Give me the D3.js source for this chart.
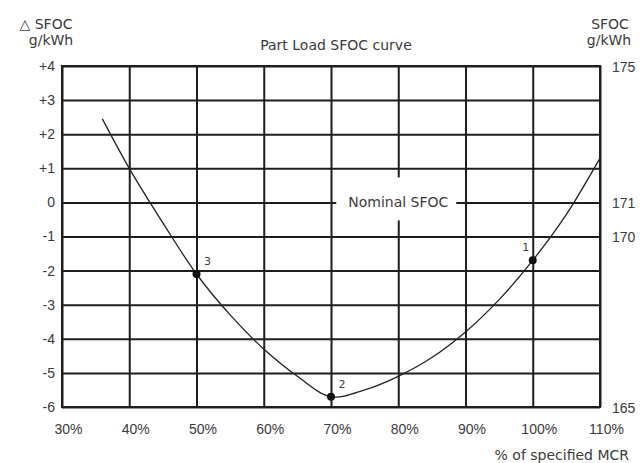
<!DOCTYPE html>
<html>
<head>
<meta charset="utf-8">
<script src="https://cdn.jsdelivr.net/npm/d3@7"></script>
<style>
  html, body { margin: 0; padding: 0; background: #fff; }
  svg { display: block; font-family: "DejaVu Sans", "Liberation Sans", Arial, sans-serif; }
  .axis text { fill: #3a3a3a; font-size: 14px; }
</style>
</head>
<body>
<svg id="chart" width="642" height="463"></svg>
<script>
// values
const loadPct = [36, 40, 45, 50, 55, 60, 65, 70, 75, 80, 85, 90, 95, 100, 105, 110];
const deltaSfoc = [2.45, 1.0, -0.6, -2.1, -3.3, -4.3, -5.1, -5.7, -5.5, -5.1, -4.55, -3.8, -2.85, -1.7, -0.35, 1.3];

const markLoad = [100, 70, 50];
const markDelta = [-1.7, -5.7, -2.1];
const markLabel = ["1", "2", "3"];

const xTicks = [30, 40, 50, 60, 70, 80, 90, 100, 110];
const yTicks = [4, 3, 2, 1, 0, -1, -2, -3, -4, -5, -6];
const rightTicks = [175, 171, 170, 165];
const nominalSfoc = 171;

const svg = d3.select("#chart");
const margin = { top: 66, right: 42, bottom: 56, left: 62 };
const innerW = 642 - margin.left - margin.right;
const innerH = 463 - margin.top - margin.bottom;

const g = svg.append("g").attr("transform", `translate(${margin.left},${margin.top})`);

const x = d3.scaleLinear().domain([30, 110]).range([0, innerW]);
const y = d3.scaleLinear().domain([-6, 4]).range([innerH, 0]);
const yRight = d3.scaleLinear().domain([nominalSfoc - 6, nominalSfoc + 4]).range([innerH, 0]);

const gridColor = "#1e1e1e";
const textColor = "#3a3a3a";

// grid
const gridG = g.append("g").attr("class", "grid");
gridG.append("g")
  .call(d3.axisBottom(x).tickValues(xTicks).tickSize(innerH).tickFormat(() => ""))
  .call((s) => s.select(".domain").remove());
gridG.append("g")
  .call(d3.axisRight(y).tickValues(yTicks).tickSize(innerW).tickFormat(() => ""))
  .call((s) => s.select(".domain").remove());
gridG.selectAll("line").attr("stroke", gridColor).attr("stroke-width", 2);

g.append("rect")
  .attr("width", innerW)
  .attr("height", innerH)
  .attr("fill", "none")
  .attr("stroke", gridColor)
  .attr("stroke-width", 2);

// left axis labels
const fmtDelta = (d) => (d > 0 ? `+${d}` : `${d}`);
g.append("g")
  .attr("class", "axis")
  .attr("transform", "translate(-4,0)")
  .call(d3.axisLeft(y).tickValues(yTicks).tickSize(0).tickFormat(fmtDelta))
  .call((s) => s.select(".domain").remove());

// right axis labels
g.append("g")
  .attr("class", "axis")
  .attr("transform", `translate(${innerW + 12},1)`)
  .call(d3.axisRight(yRight).tickValues(rightTicks).tickSize(0).tickPadding(0))
  .call((s) => s.select(".domain").remove());

// bottom axis labels
g.append("g")
  .attr("class", "axis")
  .attr("transform", `translate(6,${innerH + 14})`)
  .call(d3.axisBottom(x).tickValues(xTicks).tickSize(0).tickFormat((d) => `${d}%`))
  .call((s) => s.select(".domain").remove());

// nominal SFOC label with white box over the grid
const nomX = x(80);
const nomG = g.append("g");
nomG.append("rect")
  .attr("x", nomX - 62)
  .attr("y", y(0) - 25)
  .attr("width", 120)
  .attr("height", 43)
  .attr("fill", "#fff");
nomG.append("text")
  .attr("x", nomX)
  .attr("y", y(0))
  .attr("dy", "0.35em")
  .attr("text-anchor", "middle")
  .attr("fill", textColor)
  .attr("font-size", 14)
  .text("Nominal SFOC");

// curve
const pts = loadPct.map((v, i) => [v, deltaSfoc[i]]);
const line = d3.line()
  .x((d) => x(d[0]))
  .y((d) => y(d[1]))
  .curve(d3.curveCatmullRom.alpha(0.5));

g.append("path")
  .datum(pts)
  .attr("fill", "none")
  .attr("stroke", "#222")
  .attr("stroke-width", 1.3)
  .attr("d", line);

// marked points
const marks = markLoad.map((v, i) => ({ x: v, y: markDelta[i], label: markLabel[i] }));
g.selectAll("circle.mark")
  .data(marks)
  .join("circle")
  .attr("class", "mark")
  .attr("cx", (d) => x(d.x))
  .attr("cy", (d) => y(d.y))
  .attr("r", 4)
  .attr("fill", "#111");

g.selectAll("text.mark-label")
  .data(marks)
  .join("text")
  .attr("class", "mark-label")
  .attr("x", (d) => x(d.x) + (d.label === "1" ? -7 : 11))
  .attr("y", (d) => y(d.y) - 9)
  .attr("text-anchor", "middle")
  .attr("fill", textColor)
  .attr("font-size", 11)
  .text((d) => d.label);

// titles
function label(xPos, yPos, txt, anchor) {
  svg.append("text")
    .attr("x", xPos)
    .attr("y", yPos)
    .attr("text-anchor", anchor || "middle")
    .attr("fill", textColor)
    .attr("font-size", 14)
    .text(txt);
}

label(336, 50, "Part Load SFOC curve");
label(46, 29, "\u25B3 SFOC");
label(51, 45, "g/kWh");
label(610, 29, "SFOC");
label(609, 45, "g/kWh");
label(629, 460, "% of specified MCR", "end");
</script>
</body>
</html>
